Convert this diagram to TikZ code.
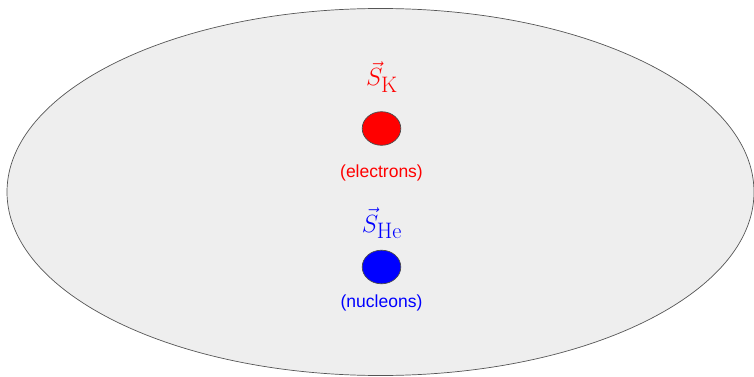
\documentclass[tikz,border=0pt]{standalone}
\usepackage{fontspec}
\usetikzlibrary{shapes.geometric}
\newfontfamily\labelfont{Liberation Sans}
\definecolor{shellfill}{HTML}{EEEEEE}
\definecolor{shelldraw}{HTML}{555555}
\begin{document}
\begin{tikzpicture}[x=1pt,y=-1pt,
  shell/.style={draw=shelldraw,line width=0.7pt,fill=shellfill},
  spin/.style={draw=black!70,line width=0.7pt,ellipse,minimum width=38.6pt,minimum height=33.6pt,inner sep=0pt},
  symb/.style={anchor=base,inner sep=0pt,font=\fontsize{32}{34}\selectfont},
  tag/.style={anchor=base,inner sep=0pt,font=\labelfont\fontsize{17.5}{20}\selectfont}]
\useasboundingbox (0,0) rectangle (754,377);
\path[shell] (380.5,192) ellipse [x radius=373.5pt, y radius=183.5pt];
\node[spin,fill=red] (ke) at (381.5,128.5) {};
\node[symb,text=red] (sk) at (382,86) {$\vec{S}_{\mathrm{K}}$};
\node[tag,text=red] (el) at (381.5,177.5) {(electrons)};
\node[symb,text=blue] (she) at (382,232) {$\vec{S}_{\mathrm{He}}$};
\node[spin,fill=blue] (he) at (381.5,267) {};
\node[tag,text=blue] (nu) at (381.5,307) {(nucleons)};
\end{tikzpicture}
\end{document}
